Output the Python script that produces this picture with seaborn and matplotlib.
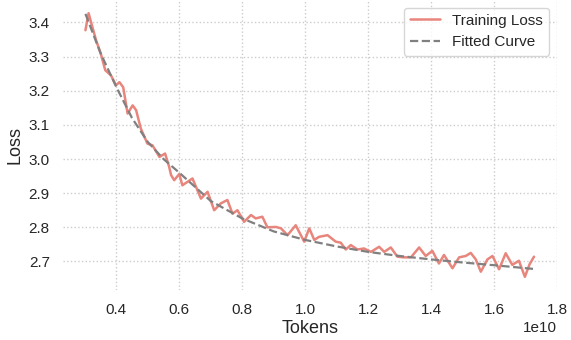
import numpy as np
import pandas as pd
import matplotlib
matplotlib.use("Agg")
import matplotlib.pyplot as plt
import seaborn as sns

# Training loss (tokens in units of 1e10)
train_tokens = [
    0.302, 0.312, 0.336, 0.351, 0.365, 0.383, 0.399, 0.410, 0.422, 0.436,
    0.452, 0.463, 0.478, 0.499, 0.515, 0.537, 0.555, 0.568, 0.574, 0.584,
    0.600, 0.610, 0.642, 0.669, 0.690, 0.711, 0.732, 0.753, 0.769, 0.785,
    0.806, 0.828, 0.843, 0.864, 0.880, 0.907, 0.923, 0.944, 0.970, 0.997,
    1.013, 1.029, 1.044, 1.071, 1.097, 1.113, 1.129, 1.145, 1.166, 1.187,
    1.209, 1.235, 1.251, 1.272, 1.293, 1.314, 1.336, 1.362, 1.383, 1.404,
    1.425, 1.441, 1.468, 1.489, 1.510, 1.526, 1.542, 1.558, 1.579, 1.595,
    1.616, 1.637, 1.658, 1.679, 1.698, 1.713, 1.727,
]
train_loss = [
    3.377, 3.427, 3.347, 3.308, 3.260, 3.245, 3.216, 3.225, 3.210, 3.133,
    3.157, 3.143, 3.089, 3.045, 3.040, 3.006, 3.016, 2.977, 2.953, 2.938,
    2.956, 2.923, 2.943, 2.884, 2.904, 2.850, 2.870, 2.880, 2.840, 2.850,
    2.816, 2.836, 2.826, 2.831, 2.800, 2.801, 2.797, 2.777, 2.806, 2.758,
    2.797, 2.763, 2.772, 2.777, 2.758, 2.755, 2.735, 2.748, 2.735, 2.738,
    2.728, 2.743, 2.728, 2.741, 2.714, 2.712, 2.712, 2.741, 2.716, 2.731,
    2.694, 2.719, 2.680, 2.712, 2.716, 2.725, 2.706, 2.670, 2.706, 2.716,
    2.677, 2.724, 2.690, 2.702, 2.655, 2.692, 2.714,
]

# Fitted scaling curve
fit_tokens = [0.302, 0.35, 0.40, 0.45, 0.50, 0.55, 0.60, 0.70, 0.80, 0.90,
              1.00, 1.10, 1.20, 1.30, 1.40, 1.50, 1.60, 1.727]
fit_loss = [3.425, 3.310, 3.211, 3.120, 3.050, 3.000, 2.960, 2.877, 2.826, 2.788,
            2.763, 2.744, 2.728, 2.716, 2.706, 2.697, 2.689, 2.678]

SCALE = 1e10

sns.set_theme(style="whitegrid", rc={"grid.linestyle": ":", "grid.color": ".8"})
plt.rcParams["font.family"] = ["Liberation Sans", "DejaVu Sans"]

train_df = pd.DataFrame({"Tokens": np.array(train_tokens) * SCALE, "Loss": train_loss})
fit_df = pd.DataFrame({"Tokens": np.array(fit_tokens) * SCALE, "Loss": fit_loss})

fig, ax = plt.subplots(figsize=(5.71, 3.4), dpi=100)
fig.subplots_adjust(left=63 / 571, right=557 / 571, top=1.0, bottom=50 / 340)

sns.lineplot(data=train_df, x="Tokens", y="Loss", ax=ax, color="#e8857c",
             linewidth=1.8, label="Training Loss")
sns.lineplot(data=fit_df, x="Tokens", y="Loss", ax=ax, color="gray",
             linestyle="--", linewidth=1.6, label="Fitted Curve")

for s in ax.spines.values():
    s.set_visible(False)

ax.set_xticks(np.arange(0.4, 1.81, 0.2) * SCALE)
ax.set_yticks([2.7, 2.8, 2.9, 3.0, 3.1, 3.2, 3.3, 3.4])
ax.tick_params(labelsize=11)
ax.xaxis.get_offset_text().set_fontsize(11)
ax.set_xlabel("Tokens", fontsize=13, labelpad=2)
ax.set_ylabel("Loss", fontsize=13, labelpad=4)
ax.legend(loc="upper right", fontsize=11, frameon=True)

fig.savefig("out.png", dpi=100)
